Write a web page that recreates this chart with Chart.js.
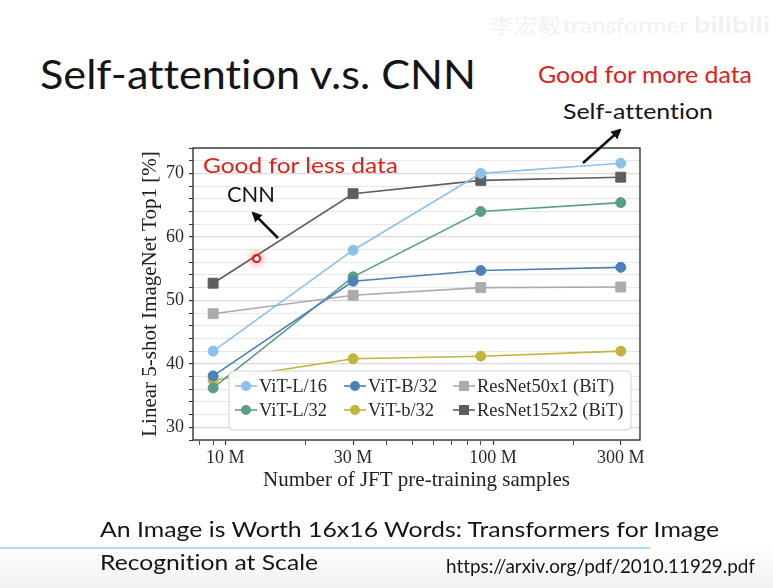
<!DOCTYPE html>
<html>
<head>
<meta charset="utf-8">
<script src="https://cdn.jsdelivr.net/npm/chart.js@4.4.0/dist/chart.umd.min.js"></script>
<style>
	html, body { margin: 0; padding: 0; background: #fff; }
	#slide { position: relative; width: 773px; height: 588px; overflow: hidden;
		background: linear-gradient(to bottom, #fff 0, #fff 545px, #f1f1f1 588px); }
	.t { position: absolute; white-space: nowrap; font-family: Lato, 'Open Sans', sans-serif;
		line-height: 1.2; transform-origin: 0 0; color: #151515; font-variant-ligatures: none; }
	.red { color: #e1201a; }
	#chartBox { position: absolute; left: 130px; top: 140px; width: 520px; height: 355px; }
	#arrows { position: absolute; left: 0; top: 0; }
	#cursor { position: absolute; left: 252px; top: 254px; width: 5px; height: 5px; border: 2px solid #f01010;
		border-radius: 50%; box-shadow: 0 0 6px 3px rgba(255, 60, 60, 0.35); }
	#rule { position: absolute; left: 0; top: 547px; width: 650px; height: 2px; background: #a9dcee; }
</style>
</head>
<body>
<div id="slide">
	<div class="t" data-x="490" data-base="33" data-w="198" style="font-size:21px;color:#f1f1f1">李宏毅transformer</div>
	<div class="t" data-x="694" data-base="33" data-w="76" style="font-size:22px;color:#f1f1f1;font-weight:bold">bilibili</div>

	<div class="t" data-x="40" data-base="89.3" data-w="436" style="font-size:40px">Self-attention v.s. CNN</div>
	<div class="t red" data-x="538" data-base="83.3" data-w="214" style="font-size:23px">Good for more data</div>
	<div class="t" data-x="563" data-base="119" data-w="150" style="font-size:22px">Self-attention</div>

	<div id="chartBox"><canvas id="grafico" width="520" height="355"></canvas></div>

	<svg id="arrows" width="773" height="588">
		<defs>
			<marker id="head" viewBox="0 0 10 10" refX="8" refY="5" markerWidth="4" markerHeight="4" orient="auto">
				<path d="M0,0 L10,5 L0,10 z" fill="#111"/>
			</marker>
		</defs>
		<line x1="583" y1="163" x2="620" y2="130" stroke="#111" stroke-width="2.6" marker-end="url(#head)"/>
		<line x1="278" y1="238" x2="253" y2="213" stroke="#111" stroke-width="2.6" marker-end="url(#head)"/>
	</svg>

	<div class="t red" data-x="203" data-base="173.3" data-w="195" style="font-size:22px">Good for less data</div>
	<div class="t" data-x="227" data-base="201.7" data-w="48" style="font-size:22px">CNN</div>
	<div id="cursor"></div>

	<div id="rule"></div>
	<div class="t" data-x="100" data-base="537.3" data-w="619" style="font-size:22px">An Image is Worth 16x16 Words: Transformers for Image</div>
	<div class="t" data-x="100" data-base="570" data-w="218" style="font-size:22px">Recognition at Scale</div>
	<div class="t" data-x="446" data-base="573.3" data-w="309" style="font-size:19px">https://arxiv.org/pdf/2010.11929.pdf</div>
</div>

<script>
// training set sizes (JFT subsets) and the axis ticks
const sampleSizes = [9e6, 30e6, 90e6, 300e6];
const xTickValues = [1e7, 3e7, 1e8, 3e8];
const xTickLabels = ['10 M', '30 M', '100 M', '300 M'];
const xMinorTicks = [8e6, 9e6, 2e7, 4e7, 5e7, 6e7, 7e7, 8e7, 9e7, 2e8];
const yTickValues = [30, 40, 50, 60, 70];

// 5-shot accuracy
const vitL16 = [42.0, 57.9, 70.0, 71.6];
const vitB32 = [38.1, 53.0, 54.7, 55.2];
const resnet50x1 = [47.9, 50.8, 52.0, 52.1];
const vitL32 = [36.2, 53.7, 64.0, 65.4];
const vitb32 = [37.4, 40.8, 41.2, 42.0];
const resnet152x2 = [52.7, 66.8, 68.9, 69.4];

const serif = 'Liberation Serif';

function serie(label, values, color, shape) {
	return {
		label: label,
		data: values.map((v, i) => ({ x: sampleSizes[i], y: v })),
		borderColor: color,
		backgroundColor: color,
		pointBackgroundColor: color,
		pointBorderColor: color,
		pointStyle: shape,
		pointRadius: shape === 'rect' ? 7 : 5,
		pointBorderWidth: 1,
		borderWidth: 1.6,
		tension: 0,
	};
}

// legend drawn inside the plot, 3 columns x 2 rows
const legendaInterna = {
	id: 'legendaInterna',
	afterDatasetsDraw(chart) {
		const { ctx, chartArea: a } = chart;
		const left = a.left + 36, top = a.bottom - 69, w = 402, h = 59;
		ctx.save();
		ctx.beginPath();
		ctx.roundRect(left, top, w, h, 4);
		ctx.fillStyle = 'rgba(255,255,255,0.88)';
		ctx.fill();
		ctx.strokeStyle = '#d2d2d2';
		ctx.lineWidth = 1;
		ctx.stroke();
		const cols = [6, 115, 224];
		const rows = [15, 39];
		ctx.font = '18.5px "' + serif + '"';
		ctx.textBaseline = 'middle';
		chart.data.datasets.forEach((ds, i) => {
			const x = left + cols[i % 3];
			const y = top + rows[Math.floor(i / 3)];
			ctx.strokeStyle = ds.borderColor;
			ctx.lineWidth = 1.6;
			ctx.beginPath();
			ctx.moveTo(x, y);
			ctx.lineTo(x + 22, y);
			ctx.stroke();
			ctx.fillStyle = ds.backgroundColor;
			if (ds.pointStyle === 'rect') {
				ctx.fillRect(x + 6, y - 5, 10, 10);
			} else {
				ctx.beginPath();
				ctx.arc(x + 11, y, 5, 0, Math.PI * 2);
				ctx.fill();
			}
			ctx.fillStyle = '#2a2a2a';
			ctx.fillText(ds.label, x + 24, y + 1);
		});
		ctx.restore();
	},
};

const moldura = {
	id: 'moldura',
	afterDraw(chart) {
		const { ctx, chartArea: a } = chart;
		ctx.save();
		ctx.strokeStyle = '#262626';
		ctx.lineWidth = 1.3;
		ctx.strokeRect(a.left, a.top, a.right - a.left, a.bottom - a.top);
		ctx.restore();
	},
};

const config = {
	type: 'line',
	data: {
		datasets: [
			serie('ViT-L/16', vitL16, '#8bc1ea', 'circle'),
			serie('ViT-B/32', vitB32, '#4d80b6', 'circle'),
			serie('ResNet50x1 (BiT)', resnet50x1, '#ababab', 'rect'),
			serie('ViT-L/32', vitL32, '#5a9e86', 'circle'),
			serie('ViT-b/32', vitb32, '#c3b43c', 'circle'),
			serie('ResNet152x2 (BiT)', resnet152x2, '#5e5e5e', 'rect'),
		],
	},
	options: {
		responsive: false,
		animation: false,
		layout: { padding: { top: 5, right: 10, left: 0, bottom: 0 } },
		plugins: {
			legend: { display: false },
			tooltip: { enabled: false },
		},
		scales: {
			x: {
				type: 'logarithmic',
				min: 7.57e6,
				max: 3.54e8,
				afterBuildTicks(s) {
					s.ticks = xMinorTicks.concat(xTickValues).sort((p, q) => p - q).map(v => ({ value: v }));
				},
				afterFit(s) {
					s.height = 55;
					s.paddingLeft = 0;
					s.paddingRight = 0;
				},
				ticks: {
					autoSkip: false,
					maxRotation: 0,
					padding: 2,
					color: '#2a2a2a',
					font: { family: serif, size: 18 },
					callback(v) {
						const i = xTickValues.indexOf(v);
						return i >= 0 ? xTickLabels[i] : '';
					},
				},
				grid: {
					drawOnChartArea: false,
					tickLength: 5,
					tickColor: '#333',
					tickWidth: c => (xTickValues.includes(c.tick.value) ? 1.2 : 0.9),
				},
				border: { display: false },
				title: {
					display: true,
					text: 'Number of JFT pre-training samples',
					color: '#222',
					font: { family: serif, size: 21 },
					padding: { top: 0, bottom: 1.5 },
				},
			},
			y: {
				min: 28,
				max: 74,
				afterFit(s) {
					s.width = 63;
					s.paddingTop = 0;
					s.paddingBottom = 0;
				},
				ticks: {
					stepSize: 2,
					autoSkip: false,
					padding: 5,
					color: '#2a2a2a',
					font: { family: serif, size: 18 },
					callback: v => (yTickValues.includes(v) ? String(v) : ''),
				},
				grid: {
					color: c => (c.tick && c.tick.value % 10 === 0 ? '#d9d9d9' : '#e8e8e8'),
					lineWidth: c => (c.tick && c.tick.value % 10 === 0 ? 1.2 : 1),
					tickLength: 4,
					tickColor: '#333',
				},
				border: { display: false },
				title: {
					display: true,
					text: 'Linear 5-shot ImageNet Top1 [%]',
					color: '#222',
					font: { family: serif, size: 21 },
					padding: { top: 7.5, bottom: 0 },
				},
			},
		},
	},
	plugins: [legendaInterna, moldura],
};

// place slide texts on their baseline and stretch to the measured width
function ajustarTextos() {
	document.querySelectorAll('.t').forEach(el => {
		const probe = document.createElement('span');
		probe.style.cssText = 'display:inline-block;width:0;height:0;vertical-align:baseline';
		el.appendChild(probe);
		el.style.left = el.dataset.x + 'px';
		el.style.top = '0px';
		const base = probe.offsetTop;
		probe.remove();
		const natural = el.getBoundingClientRect().width;
		el.style.top = (parseFloat(el.dataset.base) - base) + 'px';
		el.style.transform = 'scaleX(' + (parseFloat(el.dataset.w) / natural) + ')';
	});
}

document.addEventListener('DOMContentLoaded', function () {
	ajustarTextos();
	new Chart(document.getElementById('grafico').getContext('2d'), config);
});
</script>
</body>
</html>
